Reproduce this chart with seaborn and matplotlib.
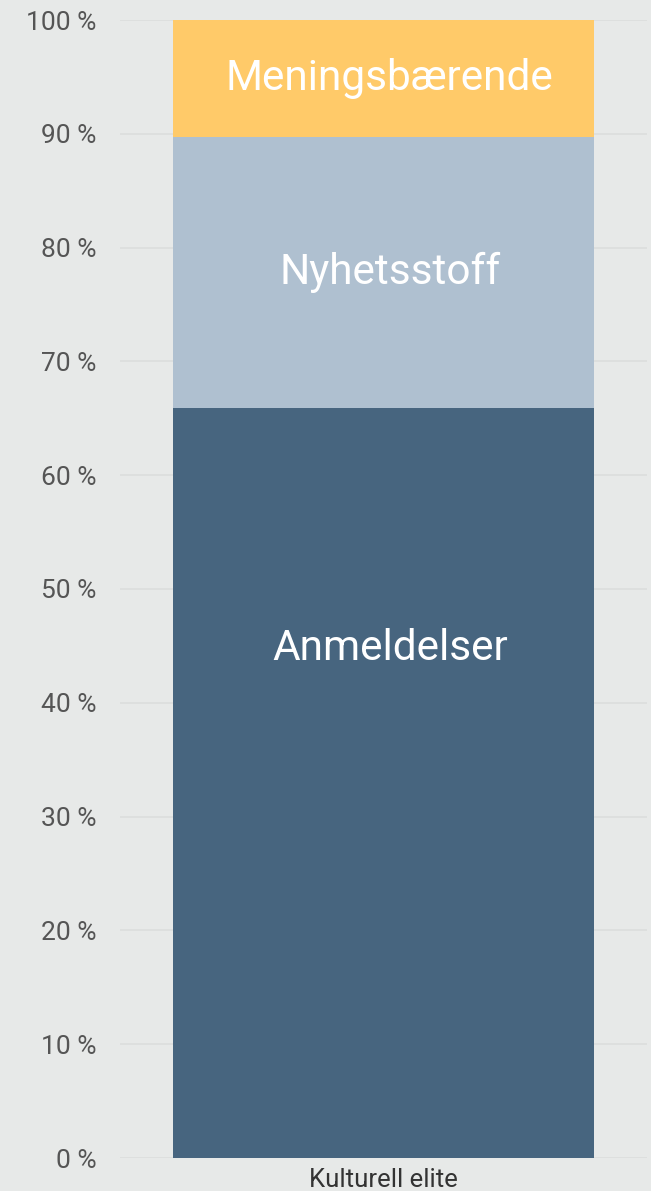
import matplotlib
matplotlib.use("Agg")
import matplotlib.pyplot as plt
import seaborn as sns
import pandas as pd

categories = ["Kulturell elite"]
series_names = ["Anmeldelser", "Nyhetsstoff", "Meningsbærende"]
anmeldelser = [65.9]
nyhetsstoff = [23.8]
meningsbaerende = [10.3]
yticks = [0, 10, 20, 30, 40, 50, 60, 70, 80, 90, 100]
ytick_labels = [f"{v} %" for v in yticks]

colors = ["#47657F", "#AFC0D0", "#FFCA69"]
bg = "#E7E9E8"

sns.set_theme(style="white")
plt.rcParams["font.family"] = ["Roboto", "DejaVu Sans"]

df = pd.DataFrame({
    "kategori": categories * 3,
    "serie": series_names,
    "verdi": anmeldelser + nyhetsstoff + meningsbaerende,
})

fig = plt.figure(figsize=(6.51, 11.91), dpi=100, facecolor=bg)
ax = fig.add_axes([120 / 651, 1 - 1158 / 1191, (647 - 120) / 651, (1158 - 20) / 1191])
ax.set_facecolor(bg)

bottom = 0.0
for name, val, col in zip(series_names, [anmeldelser, nyhetsstoff, meningsbaerende], colors):
    sub = df[df["serie"] == name]
    sns.barplot(data=sub, x="kategori", y="verdi", color=col, width=0.8,
                bottom=bottom, ax=ax, saturation=1, linewidth=0, errorbar=None)
    v = float(sub["verdi"].iloc[0])
    # first (bottom) label sits lower than the segment middle in the reference
    ypos = bottom + v / 2 if name != "Anmeldelser" else bottom + v * 0.68
    ax.annotate(name, (0, ypos), xytext=(4.5, 0), textcoords="offset points",
                ha="center", va="center", color="white", fontsize=30.5)
    bottom += v

ax.set_xlim(-0.5, 0.5)
ax.set_ylim(0, 100)
ax.set_yticks(yticks)
ax.set_yticklabels(ytick_labels)
ax.yaxis.grid(True, color="#DCDEDD", linewidth=1.2)
ax.set_axisbelow(True)
ax.tick_params(axis="y", length=0, pad=17, labelsize=19, labelcolor="#555555")
ax.tick_params(axis="x", length=0, pad=7, labelsize=18.5, labelcolor="#333333")
ax.set_xlabel("")
ax.set_ylabel("")
for s in ax.spines.values():
    s.set_visible(False)

fig.savefig("out.png", dpi=100, facecolor=bg)
